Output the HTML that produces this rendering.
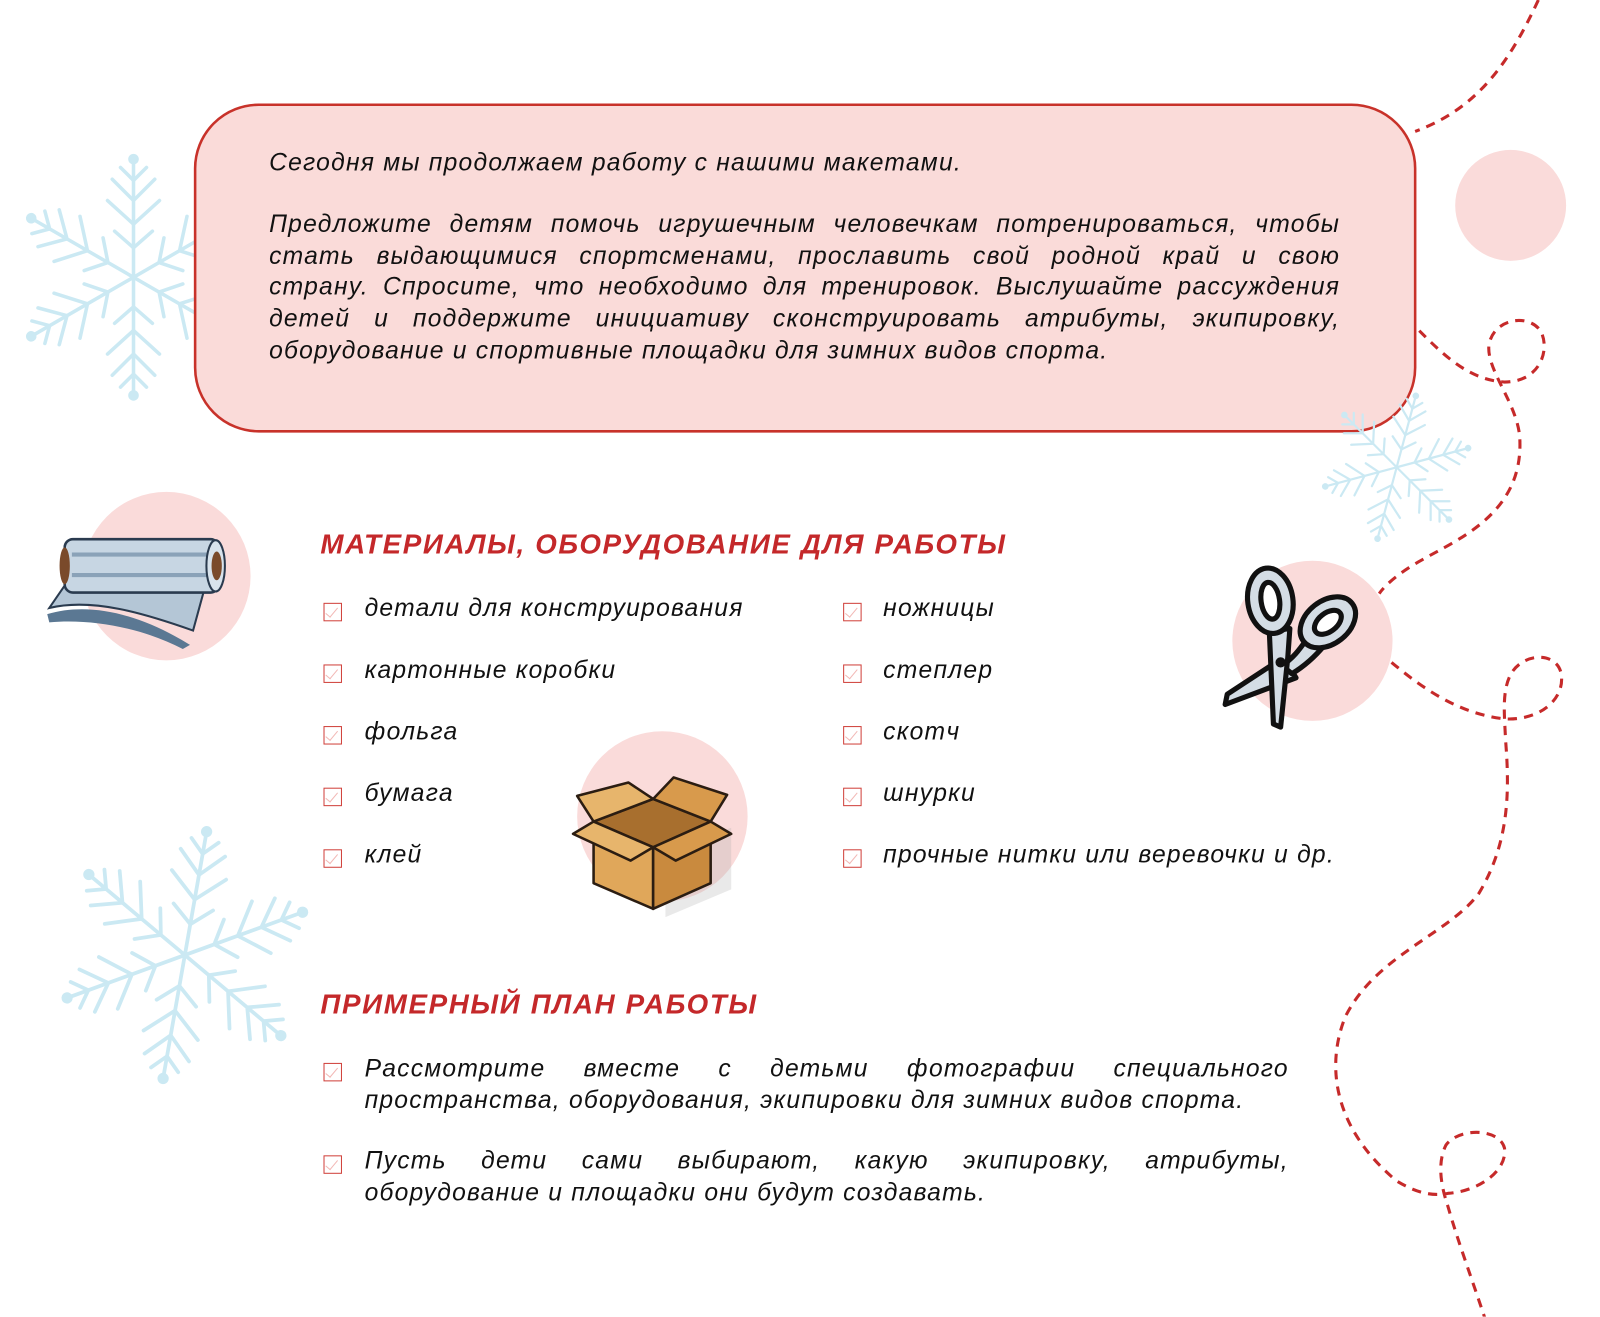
<!DOCTYPE html>
<html><head><meta charset="utf-8">
<style>
html,body{margin:0;padding:0;background:#fff;width:1600px;height:1316px;overflow:hidden}
#w{position:absolute;left:0;top:0;width:1558px;height:1282px;transform:scale(1.02696);transform-origin:0 0}
.t{position:absolute;font-family:"Liberation Sans","DejaVu Sans",sans-serif;font-style:italic;font-size:24px;letter-spacing:1.2px;color:#111;line-height:30.5px;white-space:nowrap}
.j{white-space:nowrap;text-align:justify;text-align-last:justify}
.h{position:absolute;font-family:"Liberation Sans",sans-serif;font-style:italic;font-weight:bold;font-size:27px;letter-spacing:1.6px;color:#c4282a;white-space:nowrap}
.cb{position:absolute;width:16px;height:16px;border:1.6px solid #d0413b}
.cb:after{content:"";position:absolute;left:4px;top:1px;width:5px;height:11px;border-right:1.6px solid #f2b8b5;border-bottom:1.6px solid #f2b8b5;transform:rotate(40deg)}
svg{position:absolute;left:0;top:0}
</style></head><body><div id="w">
<svg width="1558" height="1282" viewBox="0 0 1558 1282">
<defs>
<g id="arm" stroke="#cbe9f3" stroke-width="3" stroke-linecap="round" fill="none">
<line x1="0" y1="0" x2="0" y2="-100"/>
<path d="M0,-25 l-16,-14 M0,-25 l16,-14 M0,-45 l-22,-20 M0,-45 l22,-20 M0,-65 l-18,-18 M0,-65 l18,-18 M0,-82 l-11,-11 M0,-82 l11,-11"/>
<circle cx="0" cy="-100" r="3" fill="#cbe9f3"/>
</g>
<g id="flake"><use href="#arm"/><use href="#arm" transform="rotate(60)"/><use href="#arm" transform="rotate(120)"/><use href="#arm" transform="rotate(180)"/><use href="#arm" transform="rotate(240)"/><use href="#arm" transform="rotate(300)"/></g>
</defs>
<use href="#flake" transform="translate(130,270) scale(1.15)"/>
<use href="#flake" transform="translate(180,930) scale(1.22) rotate(10)"/>
<circle cx="1471" cy="200" r="54" fill="#fadbda"/>
<circle cx="162" cy="561" r="82" fill="#fadbda"/>
<circle cx="645" cy="795" r="83" fill="#fadbda"/>
<circle cx="1278" cy="624" r="78" fill="#fadbda"/>
<g fill="none" stroke="#c62a2a" stroke-width="3" stroke-dasharray="9,7">
<path d="M1498,0 C1470,60 1440,105 1378,128"/>
<path d="M1382,322 C1405,345 1430,370 1465,372 C1500,372 1510,340 1500,322 C1488,305 1455,310 1450,335 C1446,360 1480,395 1480,430 C1482,500 1420,525 1385,545 C1365,556 1350,568 1343,578"/>
<path d="M1355,645 C1385,670 1420,695 1465,700 C1500,702 1525,680 1520,655 C1515,635 1485,635 1472,655 C1462,672 1465,695 1466,720 C1470,770 1470,820 1440,870 C1410,910 1340,930 1310,990 C1290,1040 1300,1100 1360,1150 C1380,1162 1395,1165 1410,1162 C1440,1160 1468,1140 1465,1118 C1460,1098 1420,1098 1408,1115 C1398,1135 1405,1160 1410,1175 C1420,1210 1435,1250 1448,1290"/>
</g>
<rect x="190" y="102" width="1188" height="318" rx="62" fill="#fadbd9" stroke="#c8322a" stroke-width="2.5"/>
<use href="#flake" transform="translate(1360,455) scale(0.72) rotate(15)"/>
<path d="M46,598 C90,585 140,600 185,628 L178,632 C140,612 90,602 48,606 Z" fill="#5b7893"/>
<path d="M48,592 C90,582 140,597 188,614 L200,570 L70,560 Z" fill="#b4c6d6" stroke="#2a3b4f" stroke-width="2"/>
<rect x="63" y="525" width="150" height="52" rx="8" fill="#c7d6e3" stroke="#2a3b4f" stroke-width="2.5"/>
<path d="M70,540 H205 M70,560 H205" stroke="#8aa2b8" stroke-width="4"/>
<ellipse cx="210" cy="551" rx="9" ry="25" fill="#d8e3ec" stroke="#2a3b4f" stroke-width="2"/>
<ellipse cx="211" cy="551" rx="5" ry="14" fill="#7a4a2a"/>
<ellipse cx="63" cy="551" rx="5" ry="18" fill="#7a4a2a"/>
<g stroke="#2b1d12" stroke-width="2.5" stroke-linejoin="round">
<path d="M636,887 L700,860 L700,800 L636,825 Z" fill="#a8a8a8" opacity="0.25" stroke="none" transform="translate(12,6)"/>
<path d="M578,800 L636,825 L636,885 L578,860 Z" fill="#e0a75a"/>
<path d="M636,825 L692,800 L692,860 L636,885 Z" fill="#c98a3e"/>
<path d="M578,800 L636,778 L692,800 L636,825 Z" fill="#a86f2e"/>
<path d="M578,800 L558,812 L614,838 L636,825 Z" fill="#e7b56c"/>
<path d="M636,825 L658,838 L712,812 L692,800 Z" fill="#d89a4c"/>
<path d="M578,800 L562,775 L612,762 L636,778 Z" fill="#e7b56c"/>
<path d="M636,778 L656,757 L708,774 L692,800 Z" fill="#d89a4c"/>
</g>
<g stroke="#111" stroke-width="5" fill="#d4dde5" stroke-linejoin="round" stroke-linecap="round">
<path d="M1250,640 L1195,676 L1193,686 L1262,660 Z"/>
<path d="M1248,648 C1262,640 1270,625 1278,615 L1290,628 C1280,640 1268,650 1258,656 Z"/>
<ellipse cx="1293" cy="606" rx="30" ry="21" transform="rotate(-38 1293 606)"/>
<ellipse cx="1293" cy="606" rx="15" ry="9" transform="rotate(-38 1293 606)" fill="#fff"/>
<path d="M1236,615 L1240,705 L1247,708 L1254,640 L1256,612 Z"/>
<ellipse cx="1237" cy="585" rx="22" ry="32" transform="rotate(-8 1237 585)"/>
<ellipse cx="1237" cy="585" rx="9" ry="18" transform="rotate(-8 1237 585)" fill="#fff"/>
<circle cx="1247" cy="645" r="2.5" fill="#111"/>
</g>
</svg>

<div class="t" style="left:262px;top:144px">Сегодня мы продолжаем работу с нашими макетами.</div>
<div class="t j" style="left:262px;top:204px;width:1043px">Предложите детям помочь игрушечным человечкам потренироваться, чтобы</div>
<div class="t j" style="left:262px;top:234.7px;width:1043px">стать выдающимися спортсменами, прославить свой родной край и свою</div>
<div class="t j" style="left:262px;top:265.4px;width:1043px">страну. Спросите, что необходимо для тренировок. Выслушайте рассуждения</div>
<div class="t j" style="left:262px;top:296.1px;width:1043px">детей и поддержите инициативу сконструировать атрибуты, экипировку,</div>
<div class="t" style="left:262px;top:326.8px">оборудование и спортивные площадки для зимних видов спорта.</div>

<div class="h" style="left:312px;top:515px">МАТЕРИАЛЫ, ОБОРУДОВАНИЕ ДЛЯ РАБОТЫ</div>
<div class="cb" style="left:315px;top:587px"></div><div class="t" style="left:355px;top:578px">детали для конструирования</div>
<div class="cb" style="left:315px;top:647px"></div><div class="t" style="left:355px;top:638px">картонные коробки</div>
<div class="cb" style="left:315px;top:707px"></div><div class="t" style="left:355px;top:698px">фольга</div>
<div class="cb" style="left:315px;top:767px"></div><div class="t" style="left:355px;top:758px">бумага</div>
<div class="cb" style="left:315px;top:827px"></div><div class="t" style="left:355px;top:818px">клей</div>
<div class="cb" style="left:821px;top:587px"></div><div class="t" style="left:860px;top:578px">ножницы</div>
<div class="cb" style="left:821px;top:647px"></div><div class="t" style="left:860px;top:638px">степлер</div>
<div class="cb" style="left:821px;top:707px"></div><div class="t" style="left:860px;top:698px">скотч</div>
<div class="cb" style="left:821px;top:767px"></div><div class="t" style="left:860px;top:758px">шнурки</div>
<div class="cb" style="left:821px;top:827px"></div><div class="t" style="left:860px;top:818px">прочные нитки или веревочки и др.</div>

<div class="h" style="left:312px;top:963px">ПРИМЕРНЫЙ ПЛАН РАБОТЫ</div>
<div class="cb" style="left:315px;top:1035px"></div>
<div class="t j" style="left:355px;top:1026px;width:900px">Рассмотрите вместе с детьми фотографии специального</div>
<div class="t" style="left:355px;top:1056.5px">пространства, оборудования, экипировки для зимних видов спорта.</div>
<div class="cb" style="left:315px;top:1125px"></div>
<div class="t j" style="left:355px;top:1116px;width:900px">Пусть дети сами выбирают, какую экипировку, атрибуты,</div>
<div class="t" style="left:355px;top:1146.5px">оборудование и площадки они будут создавать.</div>
</div></body></html>
